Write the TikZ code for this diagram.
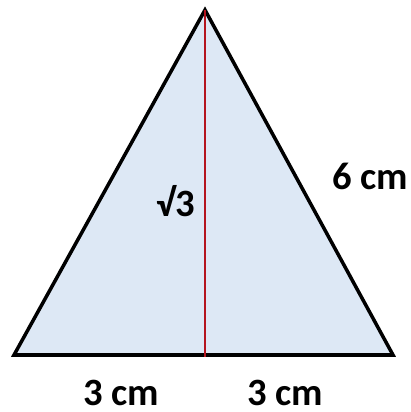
\documentclass[tikz,border=0pt]{standalone}
\usepackage{fontspec}
\setmainfont{Carlito}
\definecolor{paleblue}{RGB}{221,232,245}
\definecolor{heightred}{RGB}{180,20,30}

\begin{document}
\begin{tikzpicture}[x=0.02cm,y=-0.02cm,
  lbl/.style={font=\bfseries\fontsize{22}{25}\selectfont,inner sep=0pt}]
\useasboundingbox (0,0) rectangle (411,412);
% vertices
\coordinate (top) at (205,10);
\coordinate (left) at (14,355);
\coordinate (right) at (393,355);
\coordinate (foot) at (205,357);
% triangle
\draw[line width=2pt,fill=paleblue,line join=miter] (top) -- (left) -- (right) -- cycle;
% height
\draw[heightred,line width=1.4pt] (top) -- (foot);
% labels
\node[lbl] (h) at (176,201) {√3};
\node[lbl] (side) at (370,176) {6 cm};
\node[lbl] (bl) at (121,393) {3 cm};
\node[lbl] (br) at (285,393) {3 cm};
\end{tikzpicture}
\end{document}
